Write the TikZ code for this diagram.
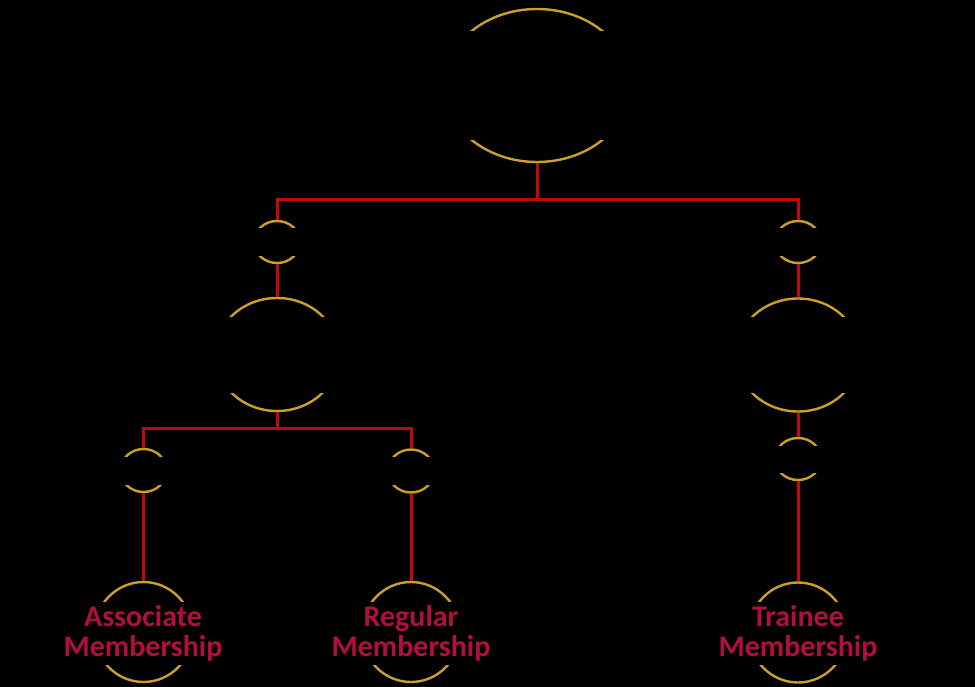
\documentclass[tikz,border=0pt]{standalone}
\usepackage{fontspec}
\usetikzlibrary{shapes.geometric}
\newfontfamily\labelfont{Carlito}
\definecolor{ringgold}{RGB}{204,160,40}
\definecolor{linkred}{RGB}{192,10,10}
\definecolor{labelred}{RGB}{178,16,58}
\begin{document}
\begin{tikzpicture}[x=1pt,y=-1pt,
		ring/.style={ellipse,draw=ringgold,line width=2.4pt,inner sep=0pt},
		band/.style={fill=black,inner sep=0pt},
		link/.style={draw=linkred,line width=3pt},
		label/.style={band,text=labelred,align=center,font=\labelfont\bfseries\fontsize{30}{30}\selectfont}]
		\fill [black] (0,0) rectangle (975,687);
		\useasboundingbox (0,0) rectangle (975,687);
		
		% rings
		\node [ring,minimum width=186pt,minimum height=153pt] (root) at (537,85.5) {};
		\node [ring,minimum width=46pt,minimum height=42pt] (pl) at (277,242) {};
		\node [ring,minimum width=46pt,minimum height=42pt] (pr) at (798,242) {};
		\node [ring,minimum width=124pt,minimum height=113pt] (ml) at (277,354.5) {};
		\node [ring,minimum width=124pt,minimum height=113pt] (mr) at (798,355) {};
		\node [ring,minimum width=46pt,minimum height=43pt] (ql) at (143.5,470.5) {};
		\node [ring,minimum width=46pt,minimum height=43pt] (qm) at (411,471) {};
		\node [ring,minimum width=46pt,minimum height=42pt] (qr) at (798,459) {};
		\node [ring,minimum width=98pt,minimum height=100pt] (assoc) at (143.5,632) {};
		\node [ring,minimum width=98pt,minimum height=100pt] (regular) at (411,632) {};
		\node [ring,minimum width=98pt,minimum height=100pt] (trainee) at (798,632.5) {};
		
		% text boxes over the rings
		\node [band,minimum width=200pt,minimum height=109pt] (roottext) at (root) {};
		\node [band,minimum width=60pt,minimum height=28pt] (pltext) at (pl) {};
		\node [band,minimum width=60pt,minimum height=28pt] (prtext) at (pr) {};
		\node [band,minimum width=140pt,minimum height=76pt] (mltext) at (ml) {};
		\node [band,minimum width=140pt,minimum height=76pt] (mrtext) at (mr) {};
		\node [band,minimum width=60pt,minimum height=28pt] (qltext) at (ql) {};
		\node [band,minimum width=60pt,minimum height=28pt] (qmtext) at (qm) {};
		\node [band,minimum width=60pt,minimum height=27pt] (qrtext) at (798,459.5) {};
		\node [label,minimum width=170pt,minimum height=63pt] (assoctext) at (143,633.5) {Associate\\Membership};
		\node [label,minimum width=170pt,minimum height=63pt] (regulartext) at (411,633.5) {Regular\\Membership};
		\node [label,minimum width=170pt,minimum height=63pt] (traineetext) at (798,633.5) {Trainee\\Membership};
		
		% links
		\draw [link] (root.south) -- ++(0,36) coordinate (rootfork);
		\draw [link] (rootfork) -| (pl.north);
		\draw [link] (rootfork) -| (pr.north);
		\draw [link] (pl.south) -- (ml.north);
		\draw [link] (pr.south) -- (mr.north);
		\draw [link] (ml.south) -- ++(0,16) coordinate (mlfork);
		\draw [link] (mlfork) -| (ql.north);
		\draw [link] (mlfork) -| (qm.north);
		\draw [link] (mr.south) -- (qr.north);
		\draw [link] (ql.south) -- (assoc.north);
		\draw [link] (qm.south) -- (regular.north);
		\draw [link] (qr.south) -- (trainee.north);
	\end{tikzpicture}
\end{document}
